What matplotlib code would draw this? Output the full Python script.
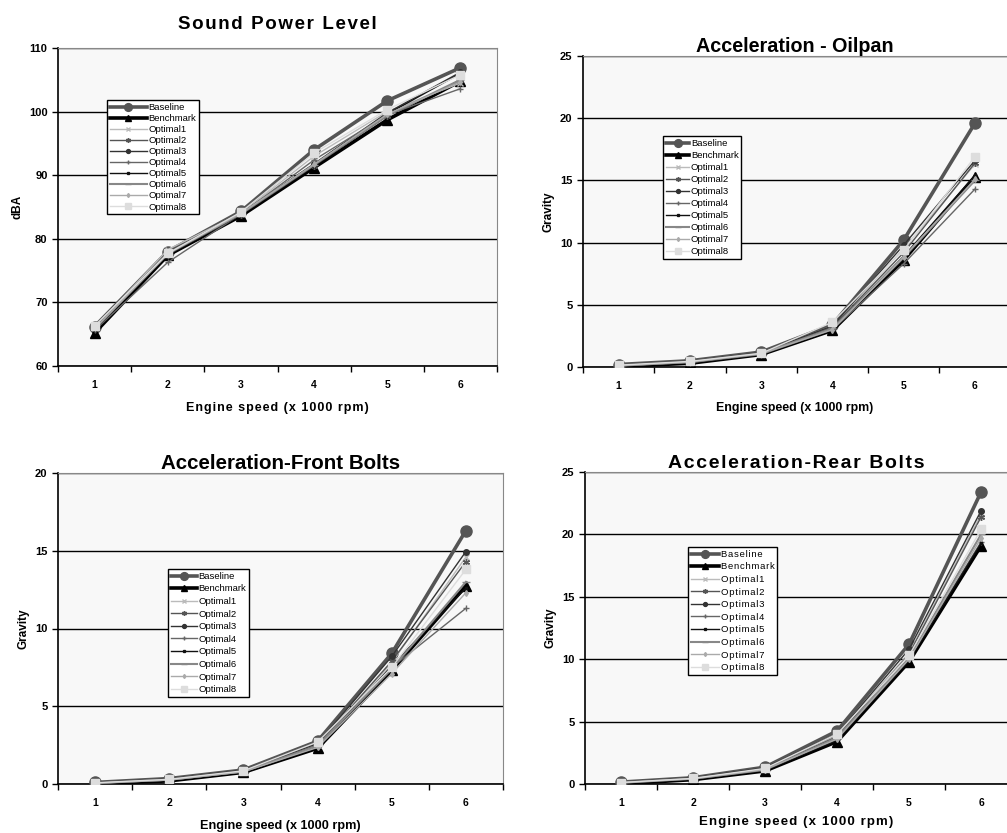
#!/usr/bin/env python3

"""
plot.py - engine noise / vibration comparison, four panels
"""

from matplotlib import pyplot as plt
from matplotlib.ticker import FixedLocator, MultipleLocator

plt.rcParams['font.family'] = ['Liberation Sans', 'DejaVu Sans']
plt.rcParams['font.weight'] = 'bold'

speed = [1, 2, 3, 4, 5, 6]
names = ['Baseline', 'Benchmark', 'Optimal1', 'Optimal2', 'Optimal3',
         'Optimal4', 'Optimal5', 'Optimal6', 'Optimal7', 'Optimal8']

# Sound power level (dBA)
spl_baseline = [66.2, 78.0, 84.3, 94.0, 101.7, 106.9]
spl_benchmark = [65.2, 77.4, 83.6, 91.2, 98.7, 104.8]
spl_opt1 = [66.0, 78.3, 84.0, 93.0, 100.0, 104.5]
spl_opt2 = [65.8, 77.5, 83.8, 91.5, 99.3, 104.9]
spl_opt3 = [66.0, 77.8, 84.0, 91.8, 99.8, 106.2]
spl_opt4 = [65.6, 76.3, 83.9, 92.4, 99.5, 103.6]
spl_opt5 = [65.7, 77.6, 83.8, 91.4, 99.6, 106.0]
spl_opt6 = [65.8, 77.7, 83.9, 91.6, 99.4, 105.0]
spl_opt7 = [65.9, 77.6, 84.0, 91.7, 99.6, 104.7]
spl_opt8 = [66.3, 77.7, 84.2, 93.5, 100.3, 105.8]

# Acceleration - oilpan (g)
oil_baseline = [0.2, 0.5, 1.2, 3.4, 10.2, 19.6]
oil_benchmark = [0.05, 0.3, 1.0, 2.95, 8.6, 15.3]
oil_opt1 = [0.1, 0.4, 1.1, 3.3, 9.5, 16.3]
oil_opt2 = [0.1, 0.4, 1.1, 3.2, 9.2, 16.4]
oil_opt3 = [0.15, 0.45, 1.15, 3.3, 9.8, 16.6]
oil_opt4 = [0.1, 0.35, 1.0, 3.0, 8.3, 14.3]
oil_opt5 = [0.1, 0.4, 1.1, 3.1, 8.9, 15.4]
oil_opt6 = [0.1, 0.4, 1.1, 3.1, 8.8, 15.0]
oil_opt7 = [0.1, 0.4, 1.05, 3.0, 8.85, 15.1]
oil_opt8 = [0.15, 0.45, 1.1, 3.6, 9.4, 16.9]

# Acceleration - front bolts (g)
front_baseline = [0.1, 0.35, 0.9, 2.75, 8.4, 16.3]
front_benchmark = [0.02, 0.2, 0.75, 2.3, 7.3, 12.75]
front_opt1 = [0.05, 0.3, 0.85, 2.5, 7.8, 14.6]
front_opt2 = [0.05, 0.3, 0.85, 2.5, 7.9, 14.3]
front_opt3 = [0.08, 0.32, 0.88, 2.6, 8.2, 14.95]
front_opt4 = [0.05, 0.25, 0.8, 2.4, 7.5, 11.3]
front_opt5 = [0.05, 0.25, 0.8, 2.4, 7.6, 12.6]
front_opt6 = [0.05, 0.28, 0.8, 2.45, 7.4, 13.0]
front_opt7 = [0.05, 0.25, 0.78, 2.35, 7.1, 12.3]
front_opt8 = [0.08, 0.3, 0.85, 2.7, 7.5, 13.8]

# Acceleration - rear bolts (g)
rear_baseline = [0.15, 0.5, 1.35, 4.25, 11.2, 23.4]
rear_benchmark = [0.02, 0.35, 1.05, 3.4, 9.8, 19.1]
rear_opt1 = [0.1, 0.45, 1.2, 3.9, 10.5, 21.6]
rear_opt2 = [0.1, 0.45, 1.2, 3.8, 10.4, 21.4]
rear_opt3 = [0.12, 0.48, 1.3, 4.0, 10.8, 21.9]
rear_opt4 = [0.08, 0.4, 1.1, 3.6, 10.0, 19.4]
rear_opt5 = [0.08, 0.4, 1.1, 3.5, 9.9, 19.3]
rear_opt6 = [0.1, 0.42, 1.15, 3.7, 10.1, 20.0]
rear_opt7 = [0.1, 0.42, 1.15, 3.6, 10.0, 19.7]
rear_opt8 = [0.12, 0.45, 1.25, 4.0, 10.3, 20.4]

# line style per series: color, linewidth, marker, markersize
styles = [
  ('#555555', 2.6, 'o', 8),
  ('#000000', 2.6, '^', 7),
  ('#bbbbbb', 1.0, 'x', 4),
  ('#555555', 1.0, (6, 2, 0), 5),
  ('#333333', 1.0, 'o', 4),
  ('#666666', 1.0, '+', 5),
  ('#111111', 1.0, 's', 2),
  ('#888888', 1.5, '_', 6),
  ('#aaaaaa', 1.0, 'd', 3),
  ('#dddddd', 1.0, 's', 6),
]


def spaced(text: str) -> str:
  """Letter-spaced text using hair spaces."""
  return '\u200a'.join(text)


def panel(fig, rect, series, title, ylabel, ylim, ystep, xmax, legend_at,
          title_size, title_pad, title_spaced=False,
          xlabel_size=9, xlabel_spaced=False, xlabel_pad=8,
          leg_spacing=0.4, leg_spaced=False, leg_handle=3.0):
  ax = fig.add_axes(rect)
  ax.set_facecolor('#f8f8f8')
  for values, name, (color, lw, marker, ms) in zip(series, names, styles):
    ax.plot(speed, values, color=color, lw=lw, marker=marker, ms=ms,
            mec=color, mfc=color, label=spaced(name) if leg_spaced else name,
            zorder=3)
  ax.set_xlim(0.5, xmax)
  ax.set_ylim(*ylim)
  ax.yaxis.set_major_locator(MultipleLocator(ystep))
  ax.xaxis.set_major_locator(FixedLocator(speed))
  ax.xaxis.set_minor_locator(FixedLocator([s + 0.5 for s in [0] + speed]))
  ax.tick_params(axis='x', which='major', length=0, pad=10, labelsize=7.5)
  ax.tick_params(axis='x', which='minor', length=4, direction='out', width=1)
  ax.tick_params(axis='y', length=4, direction='out', width=1, labelsize=8)
  ax.grid(axis='y', color='black', lw=1)
  ax.set_axisbelow(True)
  for side in ('top', 'right'):
    ax.spines[side].set_color('#888888')
  for side in ('left', 'bottom'):
    ax.spines[side].set_color('black')
    ax.spines[side].set_linewidth(1.2)
  ax.set_title(spaced(title) if title_spaced else title,
               fontsize=title_size, fontweight='bold', pad=title_pad)
  xl = 'Engine speed (x 1000 rpm)'
  ax.set_xlabel(spaced(xl) if xlabel_spaced else xl, fontsize=xlabel_size,
                fontweight='bold', labelpad=xlabel_pad)
  ax.set_ylabel(ylabel, fontsize=8.5, fontweight='bold')
  leg = ax.legend(loc='upper left', bbox_to_anchor=legend_at,
                  bbox_transform=fig.transFigure, fontsize=6.8, frameon=True,
                  fancybox=False, edgecolor='black', framealpha=1,
                  handlelength=leg_handle, handletextpad=0.15,
                  labelspacing=leg_spacing, borderpad=0.3, borderaxespad=0,
                  markerscale=0.7)
  leg.get_frame().set_linewidth(1)
  for t in leg.get_texts():
    t.set_fontweight('normal')
  return ax


W, H = 1007, 833
fig = plt.figure(figsize=(W / 100, H / 100), dpi=100)
fig.patch.set_facecolor('white')


def rect(left, top, right, bottom):
  return [left / W, 1 - bottom / H, (right - left) / W, (bottom - top) / H]


spl = [spl_baseline, spl_benchmark, spl_opt1, spl_opt2, spl_opt3,
       spl_opt4, spl_opt5, spl_opt6, spl_opt7, spl_opt8]
oil = [oil_baseline, oil_benchmark, oil_opt1, oil_opt2, oil_opt3,
       oil_opt4, oil_opt5, oil_opt6, oil_opt7, oil_opt8]
front = [front_baseline, front_benchmark, front_opt1, front_opt2, front_opt3,
         front_opt4, front_opt5, front_opt6, front_opt7, front_opt8]
rear = [rear_baseline, rear_benchmark, rear_opt1, rear_opt2, rear_opt3,
        rear_opt4, rear_opt5, rear_opt6, rear_opt7, rear_opt8]

ax1 = panel(fig, rect(58, 48, 497, 366), spl, 'Sound Power Level', 'dBA',
            (60, 110), 10, 6.5, (107 / W, 1 - 100 / H),
            title_size=13.5, title_pad=14, title_spaced=True,
            xlabel_size=9, xlabel_spaced=True, xlabel_pad=9,
            leg_spacing=0.22, leg_handle=3.9)
ax2 = panel(fig, rect(583, 56, 1007, 367), oil, 'Acceleration - Oilpan',
            'Gravity', (0, 25), 5, 6.45, (663 / W, 1 - 136 / H),
            title_size=14.25, title_pad=3,
            xlabel_size=8.9, xlabel_pad=8, leg_spacing=0.32, leg_handle=2.5)
ax3 = panel(fig, rect(58, 473, 503, 784), front, 'Acceleration-Front Bolts',
            'Gravity', (0, 20), 5, 6.5, (168 / W, 1 - 569 / H),
            title_size=14.8, title_pad=3,
            xlabel_size=9.1, xlabel_pad=9, leg_spacing=0.38, leg_handle=2.8)
ax4 = panel(fig, rect(585, 472, 1007, 784), rear, 'Acceleration-Rear Bolts',
            'Gravity', (0, 25), 5, 6.36, (688 / W, 1 - 547 / H),
            title_size=14, title_pad=2.5, title_spaced=True,
            xlabel_size=9.5, xlabel_spaced=True, xlabel_pad=6,
            leg_spacing=0.38, leg_spaced=True, leg_handle=3.0)

for ax in (ax2, ax4):
  ax.spines['right'].set_visible(False)

fig.savefig('out.png', dpi=100)
